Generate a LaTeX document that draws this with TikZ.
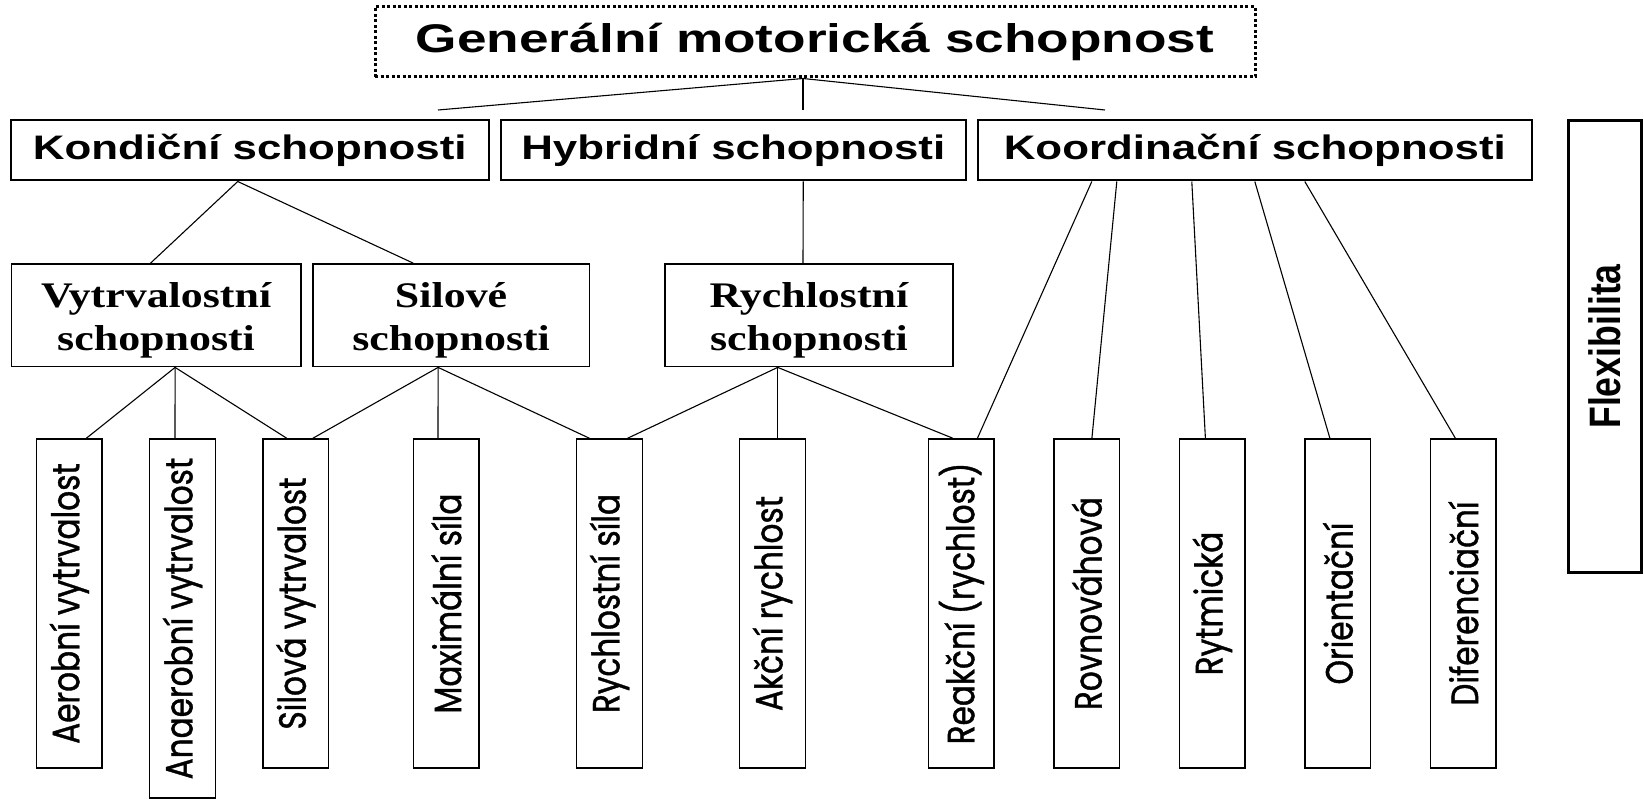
\documentclass[tikz,border=0pt]{standalone}
\usepackage{graphicx}
\usepackage{fontspec}
\setmainfont{Liberation Sans}
\newfontfamily\titlefont[FakeStretch=1.33]{Liberation Sans}
\newfontfamily\groupfont[FakeStretch=1.29]{Liberation Sans}
\newfontfamily\typefont[FakeStretch=1.22]{Liberation Serif}
\newfontfamily\flexfont[FakeStretch=0.81]{Liberation Sans}
\newfontfamily\leaffont[FakeStretch=0.82,FakeBold=1]{Poppins}
\newcommand{\vtext}[1]{\rotatebox{90}{#1}}
\newcommand{\firstline}{\rule{0pt}{36pt}}
\usetikzlibrary{positioning}

\begin{document}
\begin{tikzpicture}[x=1pt,y=-1pt,line width=1.1pt,node distance=125.5pt,
    mainbox/.style={draw,line width=3pt,dash pattern=on 3pt off 2.5pt,minimum width=880pt,minimum height=70pt,inner sep=0pt,font=\titlefont\bfseries\fontsize{40}{46}\selectfont},
    groupbox/.style={draw,line width=2pt,minimum height=60pt,inner sep=0pt,font=\groupfont\bfseries\fontsize{34}{40}\selectfont},
    typebox/.style={draw,line width=1.8pt,minimum height=102.5pt,inner sep=0pt,align=center,font=\typefont\bfseries\fontsize{36}{43}\selectfont},
    leafbox/.style={draw,line width=1.4pt,minimum width=65.5pt,minimum height=329pt,inner sep=0pt,font=\leaffont\fontsize{38}{44}\selectfont},
    flexbox/.style={draw,line width=3pt,minimum width=73.4pt,minimum height=451pt,inner sep=0pt,font=\flexfont\bfseries\fontsize{44}{50}\selectfont}]
    \useasboundingbox (0,0) rectangle (1644,799);

    \node[mainbox] (gms) at (815,42) {Generální motorická schopnost};

    \node[groupbox,minimum width=477.5pt] (kond)  at (249.75,150.5) {Kondiční schopnosti};
    \node[groupbox,minimum width=465.5pt] (hybr)  at (733.25,150.5) {Hybridní schopnosti};
    \node[groupbox,minimum width=554.4pt] (koord) at (1254.8,150.5) {Koordinační schopnosti};
    \node[flexbox] (flex) at (1605,346.5) {\vtext{Flexibilita}};

    \node[typebox,minimum width=289.2pt] (vytr) at (156.1,315.25) {\firstline Vytrvalostní\\schopnosti};
    \node[typebox,minimum width=276.6pt] (silo) at (451.1,315.25) {\firstline Silové\\schopnosti};
    \node[typebox,minimum width=288pt]   (rych) at (809,315.25)   {\firstline Rychlostní\\schopnosti};

    \node[leafbox] (aero) at (69.3,603.5) {\vtext{Aerobní vytrvalost}};
    \node[leafbox,minimum height=359pt] (anae) at (182.5,618.5) {\vtext{Anaerobní vytrvalost}};
    \node[leafbox] (silvy) at (295.8,603.5) {\vtext{Silová vytrvalost}};
    \node[leafbox] (maxs)  at (446.4,603.5) {\vtext{Maximální síla}};
    \node[leafbox] (rychs) at (609.5,603.5) {\vtext{Rychlostní síla}};
    \node[leafbox] (akcr)  at (772.5,603.5) {\vtext{Akční rychlost}};
    \node[leafbox] (reak)  at (961.4,603.5) {\vtext{Reakční (rychlost)}};
    \node[leafbox] (rovn)  [right of=reak]  {\vtext{Rovnováhová}};
    \node[leafbox] (rytm)  [right of=rovn]  {\vtext{Rytmická}};
    \node[leafbox] (orie)  [right of=rytm]  {\vtext{Orientační}};
    \node[leafbox] (dife)  [right of=orie]  {\vtext{Diferenciační}};

    % free ends under the top box
    \coordinate (gk)  at (438,110);
    \coordinate (gh)  at (803,110);
    \coordinate (gko) at (1105,110);

    \path ([xshift=-12pt]gms.south) edge (gk) edge (gh) edge (gko);
    \path ([xshift=-12pt]kond.south) edge ([xshift=-5.5pt]vytr.north)
                                     edge ([xshift=-38pt]silo.north);
    \path ([xshift=70pt]hybr.south) edge ([xshift=-6pt]rych.north);

    \path ([xshift=19pt]vytr.south) edge ([xshift=17pt]aero.north)
                                    edge ([xshift=-7.5pt]anae.north)
                                    edge ([xshift=-9pt]silvy.north);
    \path ([xshift=-13pt]silo.south) edge ([xshift=17pt]silvy.north)
                                     edge ([xshift=-8.4pt]maxs.north)
                                     edge ([xshift=-20pt]rychs.north);
    \path ([xshift=-31.3pt]rych.south) edge ([xshift=18pt]rychs.north)
                                       edge ([xshift=5.2pt]akcr.north)
                                       edge ([xshift=-8.4pt]reak.north);

    \path ([xshift=-163pt]koord.south) edge ([xshift=16pt]reak.north);
    \path ([xshift=-138pt]koord.south) edge ([xshift=5pt]rovn.north);
    \path ([xshift=-63pt]koord.south)  edge ([xshift=-7pt]rytm.north);
    \path (koord.south)                edge ([xshift=-8pt]orie.north);
    \path ([xshift=50pt]koord.south)   edge ([xshift=-8pt]dife.north);
\end{tikzpicture}
\end{document}
